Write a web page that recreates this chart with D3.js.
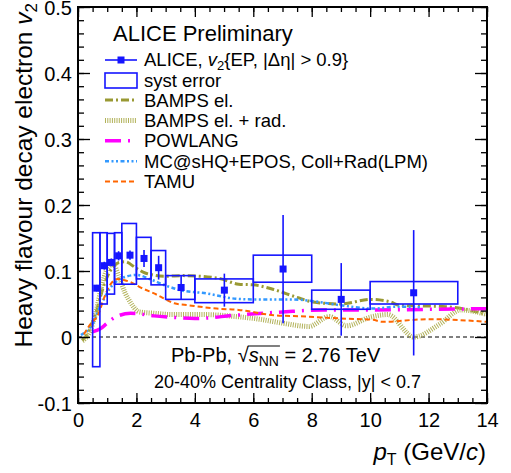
<!DOCTYPE html>
<html>
<head>
<meta charset="utf-8">
<script src="https://cdn.jsdelivr.net/npm/d3@7"></script>
<style>
  body { margin: 0; background: #fff; }
  svg { font-family: "Liberation Sans", Arial, Helvetica, sans-serif; }
</style>
</head>
<body>
<svg id="chart" width="511" height="473"></svg>
<script>
// ALICE data points
var ptLo  = [0.5, 0.75, 1.0, 1.25, 1.5, 2.0, 2.5, 3.0, 4.0, 6.0, 8.0, 10.0];
var ptHi  = [0.75, 1.0, 1.25, 1.5, 2.0, 2.5, 3.0, 4.0, 6.0, 8.0, 10.0, 13.0];
var ptC   = [0.64, 0.9, 1.14, 1.39, 1.78, 2.26, 2.76, 3.53, 5.01, 7.02, 9.01, 11.49];
var v2    = [0.074, 0.108, 0.113, 0.123, 0.124, 0.119, 0.105, 0.075, 0.071, 0.103, 0.057, 0.067];
var stat  = [0.005, 0.006, 0.006, 0.007, 0.007, 0.013, 0.018, 0.018, 0.025, 0.082, 0.055, 0.095];
var systHi = [0.158, 0.158, 0.157, 0.158, 0.172, 0.151, 0.131, 0.093, 0.088, 0.124, 0.071, 0.084];
var systLo = [-0.045, 0.05, 0.065, 0.08, 0.08, 0.088, 0.079, 0.057, 0.052, 0.083, 0.042, 0.05];

// model curves [pt, v2]
var bampsEl = [[0.15,-0.005],[0.3,0.003],[0.6,0.035],[0.9,0.08],[1.1,0.1],[1.4,0.113],[1.6,0.114],[2.0,0.104],[2.3,0.097],[3.0,0.092],[3.6,0.093],[4.8,0.089],[5.5,0.08],[6.0,0.079],[6.7,0.072],[7.5,0.06],[8.05,0.053],[9.0,0.05],[10.0,0.057],[10.7,0.053],[11.0,0.048],[12.6,0.046],[14.0,0.034]];
var bampsRad = [[0.15,-0.006],[0.4,0.008],[0.6,0.035],[0.8,0.075],[1.0,0.103],[1.2,0.11],[1.4,0.092],[1.6,0.068],[1.8,0.052],[2.1,0.038],[2.6,0.036],[3.2,0.034],[4.3,0.034],[5.4,0.031],[6.2,0.027],[7.0,0.021],[7.9,0.016],[8.6,0.031],[9.2,0.017],[10.0,0.03],[10.6,0.034],[11.5,0.0],[12.4,0.02],[13.1,0.041],[14.0,0.034]];
var powlang = [[0.5,0.008],[0.75,0.012],[1.0,0.021],[1.2,0.028],[1.8,0.036],[2.6,0.032],[3.2,0.03],[4.0,0.028],[5.4,0.033],[7.0,0.038],[8.4,0.041],[9.9,0.041],[12.3,0.042],[14.0,0.043]];
var mcshq = [[0.1,0.003],[0.5,0.02],[0.8,0.05],[1.1,0.074],[1.5,0.089],[2.0,0.094],[2.5,0.087],[3.0,0.078],[3.5,0.071],[4.4,0.066],[5.4,0.058],[6.0,0.057],[7.3,0.057],[8.1,0.054],[9.0,0.048],[10.1,0.043],[10.9,0.046],[11.7,0.045]];
var tamu = [[0.2,0.004],[0.4,0.018],[0.7,0.035],[0.9,0.06],[1.1,0.079],[1.35,0.088],[1.6,0.086],[1.8,0.083],[2.1,0.076],[2.7,0.064],[3.3,0.051],[3.8,0.048],[4.75,0.043],[5.5,0.041],[6.7,0.033],[7.8,0.031],[9.0,0.028],[10.1,0.026],[10.4,0.023],[12.0,0.027],[14.0,0.023]];

var xTicks = [0, 2, 4, 6, 8, 10, 12, 14];
var yTicks = [-0.1, 0, 0.1, 0.2, 0.3, 0.4, 0.5];

var blue = "#1515ff";
var models = [
    {name: "BAMPS el.", data: bampsEl, color: "#999933", width: 3, dash: "8 3 2 3"},
    {name: "BAMPS el. + rad.", data: bampsRad, color: "#b2b25a", width: 5, dash: "1 1.3"},
    {name: "POWLANG", data: powlang, color: "#ff00ff", width: 3.5, dash: "16 7 2 7"},
    {name: "MC@sHQ+EPOS, Coll+Rad(LPM)", data: mcshq, color: "#3399ff", width: 2.5, dash: "4 2.5 2 2.5 2 2.5"},
    {name: "TAMU", data: tamu, color: "#ff6600", width: 2, dash: "5 3"}
];

var svg = d3.select("#chart");
var x = d3.scaleLinear().domain([0, 14]).range([78, 487]);
var y = d3.scaleLinear().domain([-0.1, 0.5]).range([403, 7]);

var plot = svg.append("g");

// zero line
plot.append("line")
    .attr("x1", x(0)).attr("x2", x(14))
    .attr("y1", y(0)).attr("y2", y(0))
    .attr("stroke", "#000").attr("stroke-width", 1.2)
    .attr("stroke-dasharray", "4 3");

var line = d3.line()
    .x(function(d) { return x(d[0]); })
    .y(function(d) { return y(d[1]); })
    .curve(d3.curveMonotoneX);

models.forEach(function(m) {
    plot.append("path")
        .attr("d", line(m.data))
        .attr("fill", "none")
        .attr("stroke", m.color)
        .attr("stroke-width", m.width)
        .attr("stroke-dasharray", m.dash);
});

// syst boxes + points
ptC.forEach(function(p, i) {
    plot.append("rect")
        .attr("x", x(ptLo[i])).attr("width", x(ptHi[i]) - x(ptLo[i]))
        .attr("y", y(systHi[i])).attr("height", y(systLo[i]) - y(systHi[i]))
        .attr("fill", "none").attr("stroke", blue).attr("stroke-width", 1.6);
    plot.append("line")
        .attr("x1", x(p)).attr("x2", x(p))
        .attr("y1", y(v2[i] + stat[i])).attr("y2", y(v2[i] - stat[i]))
        .attr("stroke", blue).attr("stroke-width", 1.6);
    plot.append("rect")
        .attr("x", x(p) - 3.5).attr("y", y(v2[i]) - 3.5)
        .attr("width", 7).attr("height", 7)
        .attr("fill", blue);
});

// axes, ticks inside
var fmt = function(d) { return d3.format("~g")(d).replace("\u2212", "-"); };
function addAxis(axisFn, scale, pos, values, size, labels) {
    var a = axisFn(scale).tickValues(values).tickSize(-size).tickSizeOuter(0);
    if (labels) {
        a.tickPadding(axisFn === d3.axisBottom ? 10 : 6).tickFormat(fmt);
    } else {
        a.tickFormat("");
    }
    var g = svg.append("g").attr("transform", pos).call(a);
    g.select(".domain").remove();
    g.selectAll("line").attr("stroke", "#000").attr("stroke-width", 1.3);
    g.selectAll("text").attr("font-size", 20).attr("fill", "#000")
        .attr("font-family", "Liberation Sans, Arial, sans-serif");
    return g;
}
var xMinor = d3.range(0, 14.01, 0.5);
var yMinor = d3.range(-0.1, 0.501, 0.02);
addAxis(d3.axisBottom, x, "translate(0,403)", xTicks, 10, true);
addAxis(d3.axisBottom, x, "translate(0,403)", xMinor, 5, false);
addAxis(d3.axisTop, x, "translate(0,7)", xTicks, 10, false);
addAxis(d3.axisTop, x, "translate(0,7)", xMinor, 5, false);
addAxis(d3.axisLeft, y, "translate(78,0)", yTicks, 12, true).selectAll("text").attr("dy", "0.36em");
addAxis(d3.axisLeft, y, "translate(78,0)", yMinor, 6, false);
addAxis(d3.axisRight, y, "translate(487,0)", yTicks, 12, false);
addAxis(d3.axisRight, y, "translate(487,0)", yMinor, 6, false);

// frame
svg.append("rect")
    .attr("x", 78).attr("y", 7).attr("width", 409).attr("height", 396)
    .attr("fill", "none").attr("stroke", "#000").attr("stroke-width", 2);

// legend
svg.append("text").attr("x", 113).attr("y", 41)
    .attr("font-size", 22).text("ALICE Preliminary");

var lx1 = 105, lx2 = 137, tx = 144, fs = 18.5;
var row0 = svg.append("g");
row0.append("line").attr("x1", lx1).attr("x2", lx2).attr("y1", 60).attr("y2", 60)
    .attr("stroke", blue).attr("stroke-width", 1.6);
row0.append("rect").attr("x", 121 - 3.5).attr("y", 60 - 3.5).attr("width", 7).attr("height", 7).attr("fill", blue);
var t0 = row0.append("text").attr("x", tx).attr("y", 66).attr("font-size", fs);
t0.append("tspan").text("ALICE, ");
t0.append("tspan").attr("font-style", "italic").text("v");
t0.append("tspan").attr("font-size", 13).attr("dy", 4).text("2");
t0.append("tspan").attr("dy", -4).text("{EP, |\u0394\u03b7| > 0.9}");

svg.append("rect").attr("x", lx1).attr("y", 73).attr("width", lx2 - lx1).attr("height", 15)
    .attr("fill", "none").attr("stroke", blue).attr("stroke-width", 1.6);
svg.append("text").attr("x", tx).attr("y", 86.5).attr("font-size", fs).text("syst error");

models.forEach(function(m, i) {
    var yy = 100 + i * 20.4;
    svg.append("line").attr("x1", lx1).attr("x2", lx2).attr("y1", yy).attr("y2", yy)
        .attr("stroke", m.color).attr("stroke-width", m.width).attr("stroke-dasharray", m.dash);
    svg.append("text").attr("x", tx).attr("y", yy + 6.5).attr("font-size", fs).text(m.name);
});

// annotation
var ann = svg.append("text").attr("x", 171).attr("y", 362).attr("font-size", 20);
ann.append("tspan").text("Pb-Pb, ");
var rad = ann.append("tspan").text("\u221a");
var sTs = ann.append("tspan").attr("font-style", "italic").text("s");
var nnTs = ann.append("tspan").attr("font-size", 14).attr("dy", 4).text("NN");
ann.append("tspan").attr("dy", -4).text(" = 2.76 TeV");
var b2 = nnTs.node().getBBox(), br = rad.node().getBBox();
svg.append("line")
    .attr("x1", br.x + br.width - 1).attr("x2", b2.x + b2.width + 1)
    .attr("y1", br.y + 2).attr("y2", br.y + 2)
    .attr("stroke", "#000").attr("stroke-width", 1.2);

svg.append("text").attr("x", 154).attr("y", 388).attr("font-size", 18)
    .text("20-40% Centrality Class, |y| < 0.7");

// axis titles
var xt = svg.append("text").attr("x", 486).attr("y", 460)
    .attr("text-anchor", "end").attr("font-size", 24);
xt.append("tspan").attr("font-style", "italic").text("p");
xt.append("tspan").attr("font-size", 16).attr("dy", 5).text("T");
xt.append("tspan").attr("dy", -5).text(" (GeV/");
xt.append("tspan").attr("font-style", "italic").text("c");
xt.append("tspan").text(")");

var yt = svg.append("text")
    .attr("transform", "translate(32,3) rotate(-90)")
    .attr("text-anchor", "end").attr("font-size", 24.5);
yt.append("tspan").text("Heavy flavour decay electron ");
yt.append("tspan").attr("font-style", "italic").text("v");
yt.append("tspan").attr("font-size", 17).attr("dy", 5).text("2");
</script>
</body>
</html>
